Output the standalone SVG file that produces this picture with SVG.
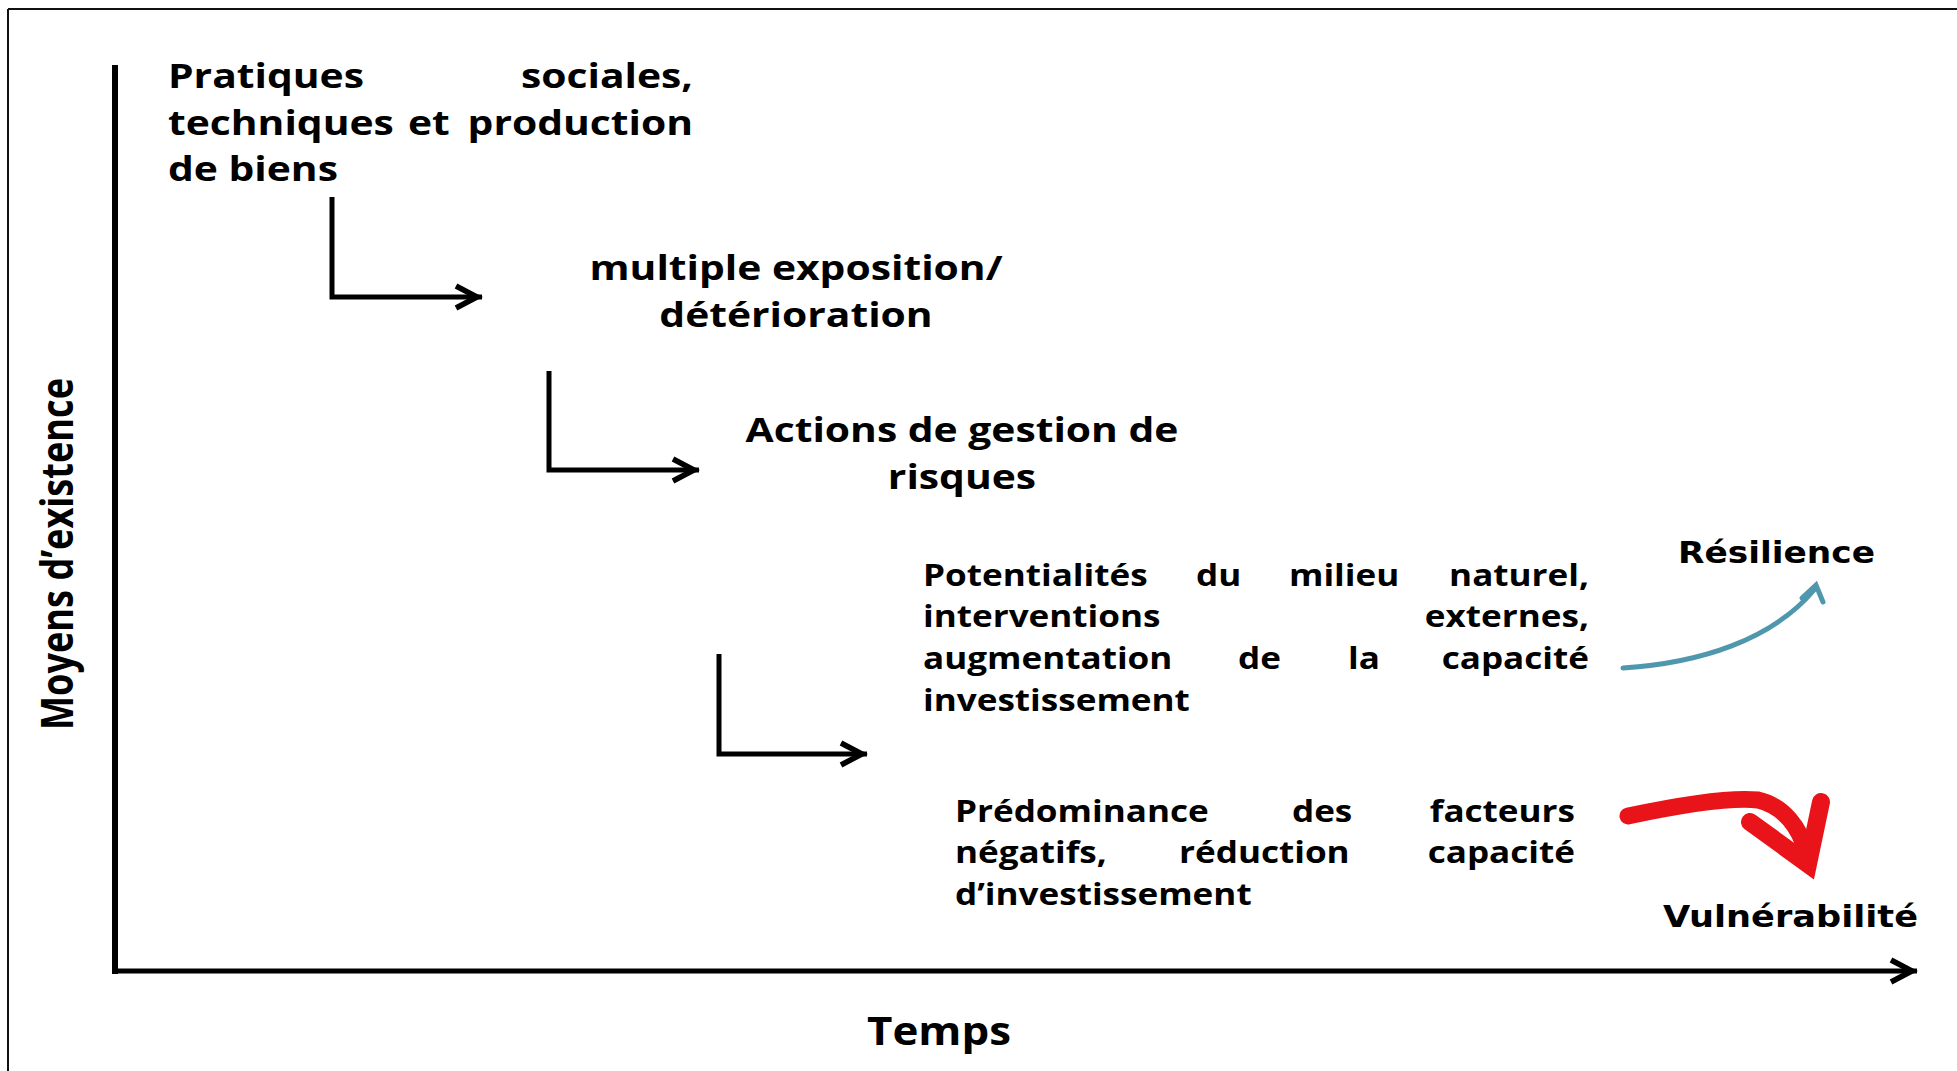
<svg xmlns="http://www.w3.org/2000/svg" width="1957" height="1071" viewBox="0 0 1957 1071">
<style>
.t{font-family:"Open Sans","Liberation Sans",sans-serif;font-weight:700;fill:#000}
.v{font-family:"DejaVu Sans","Liberation Sans",sans-serif;font-weight:700;fill:#000}
.s1{font-size:34px}
.s4{font-size:30px}
.ln{fill:none;stroke:#000;stroke-width:5}
</style>
<defs>
<marker id="chev" markerUnits="userSpaceOnUse" markerWidth="50" markerHeight="40" viewBox="-35 -20 50 40" refX="0" refY="0" orient="auto">
<path d="M-26,-11 L-5,0 L-26,11" fill="none" stroke="#000" stroke-width="5.5" stroke-linejoin="miter"/>
</marker>
</defs>
<rect width="1957" height="1071" fill="#fff"/>
<g id="frame">
<line x1="8" y1="9" x2="1957" y2="9" stroke="#111" stroke-width="2"/>
<line x1="8" y1="9" x2="8" y2="1071" stroke="#111" stroke-width="2"/>
</g>
<g id="axes">
<line x1="115" y1="65" x2="115" y2="974" stroke="#000" stroke-width="6"/>
<line x1="112" y1="971" x2="1917" y2="971" stroke="#000" stroke-width="5" marker-end="url(#chev)"/>
<text class="t" transform="translate(73,554) scale(1.2,1) rotate(-90)" text-anchor="middle" font-size="37" textLength="352" lengthAdjust="spacingAndGlyphs">Moyens d’existence</text>
<text class="t" x="867" y="1045" font-size="40" textLength="144" lengthAdjust="spacingAndGlyphs">Temps</text>
</g>
<g id="node-pratiques" class="t s1" transform="translate(168,0) scale(1.2,1)">
<text x="0" y="88">Pratiques</text>
<text x="437.5" y="88" text-anchor="end">sociales,</text>
<text x="0" y="135">techniques</text>
<text x="200" y="135">et</text>
<text x="437.5" y="135" text-anchor="end">production</text>
<text x="0" y="181">de biens</text>
</g>
<g id="node-exposition" class="t s1" transform="translate(796,0) scale(1.2,1)" text-anchor="middle">
<text x="0" y="280">multiple exposition/</text>
<text x="0" y="327">détérioration</text>
</g>
<g id="node-actions" class="t s1" transform="translate(962,0) scale(1.2,1)" text-anchor="middle">
<text x="0" y="442">Actions de gestion de</text>
<text x="0" y="489">risques</text>
</g>
<g id="node-potentialites" class="t s4" transform="translate(923,0) scale(1.17,1)">
<text x="0" y="586">Potentialités</text>
<text x="233.3" y="586">du</text>
<text x="312.8" y="586">milieu</text>
<text x="569.2" y="586" text-anchor="end">naturel,</text>
<text x="0" y="627">interventions</text>
<text x="569.2" y="627" text-anchor="end">externes,</text>
<text x="0" y="669">augmentation</text>
<text x="269.2" y="669">de</text>
<text x="363.2" y="669">la</text>
<text x="569.2" y="669" text-anchor="end">capacité</text>
<text x="0" y="711">investissement</text>
</g>
<g id="node-predominance" class="t s4" transform="translate(955,0) scale(1.17,1)">
<text x="0" y="822">Prédominance</text>
<text x="288" y="822">des</text>
<text x="529.9" y="822" text-anchor="end">facteurs</text>
<text x="0" y="863">négatifs,</text>
<text x="191.5" y="863">réduction</text>
<text x="529.9" y="863" text-anchor="end">capacité</text>
<text x="0" y="905">d’investissement</text>
</g>
<g id="node-resilience">
<text class="v" x="1678" y="563" font-size="30" textLength="197" lengthAdjust="spacingAndGlyphs">Résilience</text>
</g>
<g id="node-vulnerabilite">
<text class="v" x="1663" y="927" font-size="30" textLength="255" lengthAdjust="spacingAndGlyphs">Vulnérabilité</text>
</g>
<g id="connectors">
<path class="ln" d="M332,197 V297 H482" marker-end="url(#chev)"/>
<path class="ln" d="M549,371 V470 H699" marker-end="url(#chev)"/>
<path class="ln" d="M719,654 V754 H867" marker-end="url(#chev)"/>
<path d="M1623,668 C1700,663 1772,640 1814,590" fill="none" stroke="#4f97ad" stroke-width="5" stroke-linecap="round"/>
<path d="M1802,598 L1816,585 L1823,602" fill="none" stroke="#4f97ad" stroke-width="5" stroke-linecap="round" stroke-linejoin="miter"/>
<path d="M1628,816 C1680,805 1730,797 1758,800 C1784,806 1800,828 1806,852" fill="none" stroke="#e8141a" stroke-width="17" stroke-linecap="round"/>
<path d="M1750,822 L1808,864 L1821,802" fill="none" stroke="#e8141a" stroke-width="18" stroke-linecap="round" stroke-linejoin="miter"/>
</g>
</svg>
